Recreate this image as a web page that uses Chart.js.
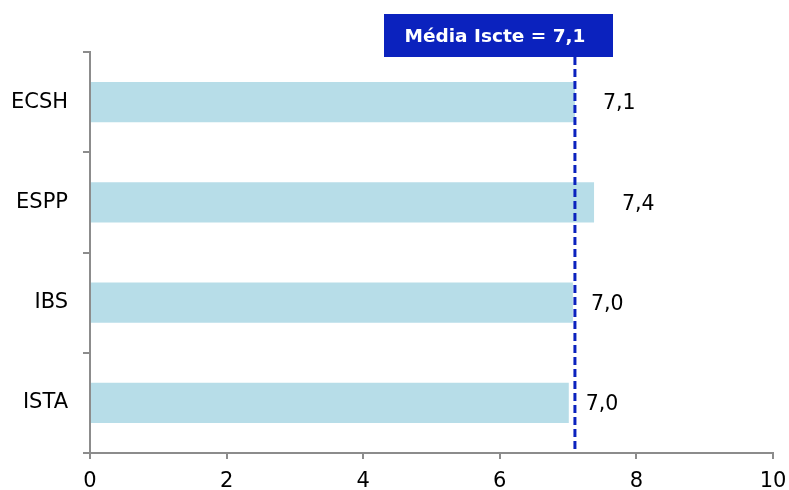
<!DOCTYPE html>
<html>
<head>
<meta charset="utf-8">
<script src="https://cdn.jsdelivr.net/npm/chart.js@4/dist/chart.umd.min.js"></script>
<style>
  html, body { margin: 0; padding: 0; background: #fff; }
  #wrap { width: 789px; height: 490px; }
</style>
</head>
<body>
<div id="wrap"><canvas id="chart" width="789" height="490"></canvas></div>
<script>
const categories = ['ECSH', 'ESPP', 'IBS', 'ISTA'];
const values = [7.10, 7.38, 7.07, 7.01];
const valueLabels = ['7,1', '7,4', '7,0', '7,0'];
const meanValue = 7.1;
const meanLabel = 'Média Iscte = 7,1';
const xTicks = [0, 2, 4, 6, 8, 10];

const FONT = '"DejaVu Sans", Verdana, sans-serif';
const AXIS = '#8c8c8c';
const BLUE = '#0b22be';

// value labels next to each bar
const valueLabelPlugin = {
  id: 'valueLabels',
  afterDatasetsDraw(chart, args, opts) {
    const { ctx } = chart;
    const meta = chart.getDatasetMeta(0);
    ctx.save();
    ctx.font = '20.5px ' + FONT;
    ctx.fillStyle = '#000';
    ctx.textBaseline = 'middle';
    ctx.textAlign = 'left';
    meta.data.forEach((bar, i) => {
      ctx.fillText(valueLabels[i], bar.x + opts.offsets[i], bar.y + 2);
    });
    ctx.restore();
  }
};

// dashed mean line + label box
const meanLinePlugin = {
  id: 'meanLine',
  afterDatasetsDraw(chart) {
    const { ctx, chartArea, scales } = chart;
    const x = scales.x.getPixelForValue(meanValue);
    ctx.save();
    ctx.strokeStyle = BLUE;
    ctx.lineWidth = 3;
    ctx.setLineDash([8, 4]);
    ctx.beginPath();
    ctx.moveTo(x, 57);
    ctx.lineTo(x, chartArea.bottom);
    ctx.stroke();
    ctx.setLineDash([]);

    ctx.fillStyle = BLUE;
    ctx.fillRect(384, 14, 229, 43);
    ctx.fillStyle = '#fff';
    ctx.font = 'bold 18.5px ' + FONT;
    ctx.textAlign = 'center';
    ctx.textBaseline = 'middle';
    ctx.fillText(meanLabel, 495, 37);
    ctx.restore();
  }
};

new Chart(document.getElementById('chart').getContext('2d'), {
  type: 'bar',
  data: {
    labels: categories,
    datasets: [{
      data: values,
      backgroundColor: '#b7dde8',
      borderWidth: 0,
      barPercentage: 0.4,
      categoryPercentage: 1.0
    }]
  },
  plugins: [valueLabelPlugin, meanLinePlugin],
  options: {
    indexAxis: 'y',
    responsive: false,
    animation: false,
    layout: { padding: { top: 52, right: 16, left: 0, bottom: 0 } },
    plugins: {
      legend: { display: false },
      tooltip: { enabled: false },
      valueLabels: { offsets: [28, 28, 18, 17] }
    },
    scales: {
      x: {
        min: 0,
        max: 10,
        afterBuildTicks: (axis) => { axis.ticks = xTicks.map(v => ({ value: v })); },
        afterFit: (axis) => {
          axis.height = 37;
          axis.paddingLeft = 0;
          axis.paddingRight = 0;
        },
        border: { color: AXIS, width: 2 },
        grid: { drawOnChartArea: false, color: AXIS, lineWidth: 2, tickLength: 6 },
        ticks: { color: '#000', font: { family: FONT, size: 21 }, padding: 10 }
      },
      y: {
        afterFit: (axis) => { axis.width = 90; },
        border: { color: AXIS, width: 2 },
        grid: { drawOnChartArea: false, color: AXIS, lineWidth: 2, tickLength: 7, offset: true },
        ticks: { color: '#000', font: { family: FONT, size: 21 }, padding: 15 }
      }
    }
  }
});
</script>
</body>
</html>
